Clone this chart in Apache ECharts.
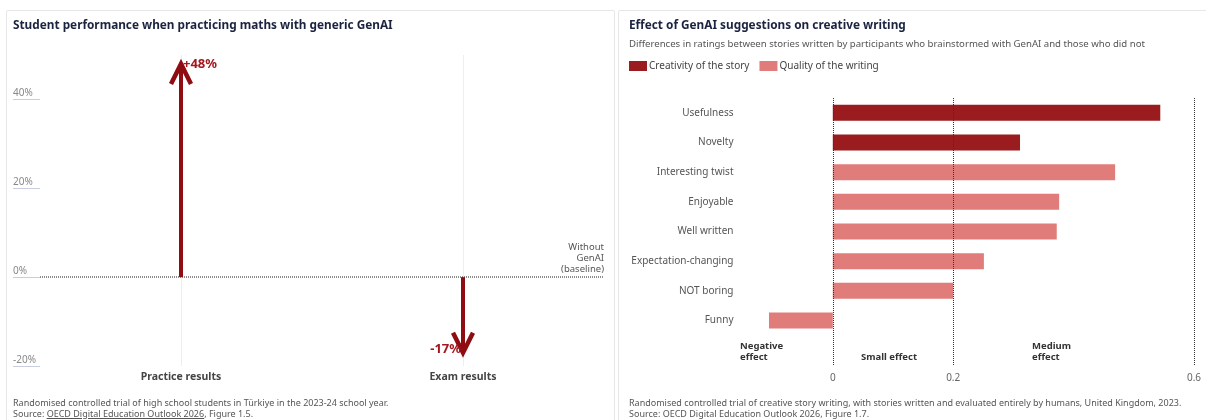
<!DOCTYPE html>
<html>
<head>
<meta charset="utf-8">
<script src="https://cdn.jsdelivr.net/npm/echarts@6/dist/echarts.min.js"></script>
<style>
    html, body { margin: 0; padding: 0; background: #fff; }
    #wrap { position: relative; width: 1206px; height: 420px; overflow: hidden; font-family: "Noto Sans", sans-serif; }
    .panel { position: absolute; top: 10px; height: 440px; border: 1px solid #e7e7e7; border-radius: 2px; box-sizing: border-box; }
    #chart { position: absolute; left: 0; top: 0; width: 1206px; height: 420px; }
    .note { position: absolute; font-size: 9px; line-height: 11px; color: #555; white-space: nowrap; }
    .note u { text-decoration: underline; }
</style>
</head>
<body>
<div id="wrap">
    <div class="panel" style="left:6px;width:609px;"></div>
    <div class="panel" style="left:618px;width:620px;"></div>
    <div id="chart"></div>
    <div class="note" style="left:13px;top:397px;">Randomised controlled trial of high school students in Türkiye in the 2023-24 school year.<br>Source: <u>OECD Digital Education Outlook 2026</u>, Figure 1.5.</div>
    <div class="note" style="left:629px;top:397px;">Randomised controlled trial of creative story writing, with stories written and evaluated entirely by humans, United Kingdom, 2023.<br>Source: OECD Digital Education Outlook 2026, Figure 1.7.</div>
</div>
<script>
// left panel: maths practice vs exam
var mathCategories = ['Practice results', 'Exam results'];
var mathValues = [48, -17];
var mathTicks = [-20, 0, 20, 40];

// right panel: creative writing effect sizes
var writingCategories = ['Usefulness', 'Novelty', 'Interesting twist', 'Enjoyable', 'Well written', 'Expectation-changing', 'NOT boring', 'Funny', ''];
var creativityValues = [0.544, 0.311, '-', '-', '-', '-', '-', '-', '-'];
var qualityValues = ['-', '-', 0.469, 0.376, 0.372, 0.251, 0.2, -0.106, '-'];
var effectTicks = [0, 0.2, 0.6];

var darkRed = '#8e0c12';
var font = '"Noto Sans", sans-serif';

var chart = echarts.init(document.getElementById('chart'));

function renderArrow(params, api) {
    var idx = api.value(0);
    var v = api.value(1);
    var p0 = api.coord([idx, 0]);
    var p1 = api.coord([idx, v]);
    var dir = v > 0 ? 1 : -1;   // 1 = pointing up
    var head = 20, half = 10;
    var txt = (v > 0 ? '+' : '') + v + '%';
    return {
        type: 'group',
        children: [
            {
                type: 'line',
                shape: { x1: p0[0], y1: p0[1], x2: p1[0], y2: p1[1] + dir * 2 },
                style: { stroke: darkRed, lineWidth: 4 }
            },
            {
                type: 'polyline',
                shape: { points: [[p1[0] - half, p1[1] + dir * head], [p1[0], p1[1]], [p1[0] + half, p1[1] + dir * head]] },
                style: { stroke: darkRed, lineWidth: 4.5, fill: null, lineJoin: 'miter' }
            },
            {
                type: 'text',
                x: v > 0 ? p1[0] + 2 : p1[0] - 2,
                y: v > 0 ? p1[1] : p1[1] - 3,
                style: {
                    text: txt,
                    fill: '#a3181e',
                    font: 'bold 13px ' + font,
                    align: v > 0 ? 'left' : 'right',
                    verticalAlign: 'middle'
                }
            }
        ]
    };
}

var option = {
    animation: false,
    textStyle: { fontFamily: font },
    title: [
        {
            text: 'Student performance when practicing maths with generic GenAI',
            left: 13, top: 20, padding: 0,
            textStyle: { fontSize: 11.8, fontWeight: 'bold', color: '#1b2340', fontFamily: font }
        },
        {
            text: 'Effect of GenAI suggestions on creative writing',
            subtext: 'Differences in ratings between stories written by participants who brainstormed with GenAI and those who did not',
            left: 629, top: 20, itemGap: 7, padding: 0,
            textStyle: { fontSize: 11.8, fontWeight: 'bold', color: '#1b2340', fontFamily: font },
            subtextStyle: { fontSize: 9.6, color: '#555', fontFamily: font }
        }
    ],
    legend: {
        left: 624, top: 56,
        itemWidth: 18, itemHeight: 10, itemGap: 10,
        icon: 'rect',
        textStyle: { fontSize: 10, color: '#444', padding: [0, 0, 0, -3] },
        data: ['Creativity of the story', 'Quality of the writing']
    },
    grid: [
        { left: 40, right: 602, top: 55, bottom: 54 },
        { left: 742.5, right: 12, top: 98, bottom: 55 }
    ],
    xAxis: [
        {
            gridIndex: 0, type: 'category', data: mathCategories,
            axisLine: { show: false }, axisTick: { show: false }, splitLine: { show: false },
            axisLabel: { fontSize: 10.5, fontWeight: 'bold', color: '#444', margin: 6 }
        },
        {
            gridIndex: 1, type: 'value', min: -0.15, max: 0.6,
            axisLine: { show: false }, axisTick: { show: false }, splitLine: { show: false },
            axisLabel: { customValues: effectTicks, fontSize: 10, color: '#666', margin: 8 }
        }
    ],
    yAxis: [
        {
            gridIndex: 0, type: 'value', min: -20, max: 50,
            axisLine: { show: false }, splitLine: { show: false },
            axisTick: { show: true, customValues: mathTicks, length: 27, lineStyle: { color: '#c9cde0' } },
            axisLabel: {
                customValues: mathTicks, formatter: '{value}%',
                align: 'left', verticalAlign: 'bottom', margin: 27, padding: [0, 0, 1, 0],
                fontSize: 10, color: '#888'
            }
        },
        {
            gridIndex: 1, type: 'category', data: writingCategories, inverse: true,
            axisLine: { show: false }, axisTick: { show: false }, splitLine: { show: false },
            axisLabel: { fontSize: 10, color: '#555', margin: 9 }
        }
    ],
    series: [
        {
            // guide lines for the left panel
            type: 'line', xAxisIndex: 0, yAxisIndex: 0, data: ['-', '-'], z: 1, silent: true,
            markLine: {
                symbol: 'none', silent: true, animation: false,
                data: [
                    { xAxis: 0, lineStyle: { color: '#eeeeee', type: 'solid', width: 1 }, label: { show: false } },
                    { xAxis: 1, lineStyle: { color: '#eeeeee', type: 'solid', width: 1 }, label: { show: false } },
                    {
                        yAxis: 0, lineStyle: { color: '#666', type: [1, 1], width: 1.5 },
                        label: {
                            show: true, position: 'insideEndTop', formatter: 'Without\nGenAI\n(baseline)',
                            align: 'right', fontSize: 9.5, lineHeight: 11, color: '#555', distance: [0, 2]
                        }
                    }
                ]
            }
        },
        {
            type: 'custom', xAxisIndex: 0, yAxisIndex: 0, z: 5,
            renderItem: renderArrow,
            data: mathValues.map(function (v, i) { return [i, v]; })
        },
        {
            name: 'Creativity of the story', type: 'bar', xAxisIndex: 1, yAxisIndex: 1,
            barWidth: 16, barGap: '-100%', itemStyle: { color: '#9a1c1f' },
            data: creativityValues
        },
        {
            name: 'Quality of the writing', type: 'bar', xAxisIndex: 1, yAxisIndex: 1,
            barWidth: 16, itemStyle: { color: '#e07c79' },
            data: qualityValues,
            markLine: {
                symbol: 'none', silent: true, animation: false,
                lineStyle: { color: '#333', type: [1, 1], width: 1 },
                label: { show: false },
                data: effectTicks.map(function (t) { return { xAxis: t }; })
            }
        }
    ],
    graphic: [
        { type: 'text', left: 740, top: 341, style: { text: 'Negative\neffect', font: 'bold 9.5px ' + font, fill: '#333', lineHeight: 11 } },
        { type: 'text', left: 861, top: 352, style: { text: 'Small effect', font: 'bold 9.5px ' + font, fill: '#333' } },
        { type: 'text', left: 1032, top: 341, style: { text: 'Medium\neffect', font: 'bold 9.5px ' + font, fill: '#333', lineHeight: 11 } }
    ]
};

chart.setOption(option);
</script>
</body>
</html>
